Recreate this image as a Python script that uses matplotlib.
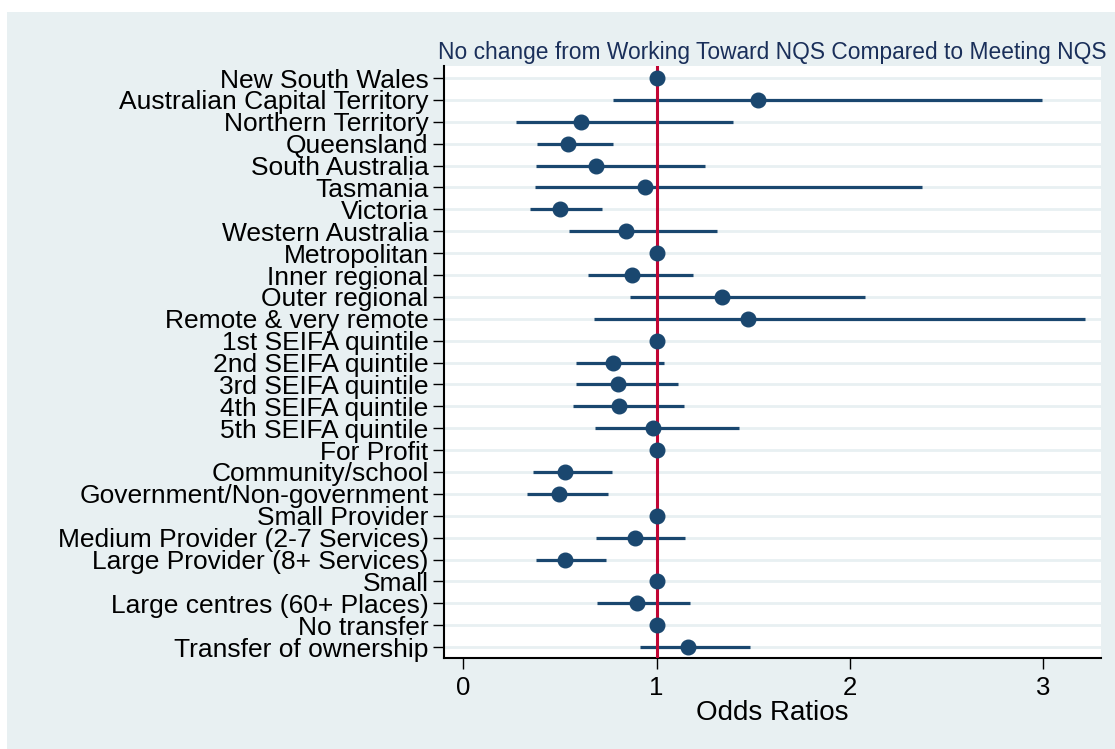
import matplotlib
matplotlib.use('Agg')
import matplotlib.pyplot as plt
import numpy as np

plt.rcParams['font.family'] = ['Liberation Sans', 'DejaVu Sans']

labels = ['New South Wales', 'Australian Capital Territory', 'Northern Territory',
          'Queensland', 'South Australia', 'Tasmania', 'Victoria', 'Western Australia',
          'Metropolitan', 'Inner regional', 'Outer regional', 'Remote & very remote',
          '1st SEIFA quintile', '2nd SEIFA quintile', '3rd SEIFA quintile',
          '4th SEIFA quintile', '5th SEIFA quintile', 'For Profit', 'Community/school',
          'Government/Non-government', 'Small Provider', 'Medium Provider (2-7 Services)',
          'Large Provider (8+ Services)', 'Small', 'Large centres (60+ Places)',
          'No transfer', 'Transfer of ownership']

odds = [1.0, 1.523, 0.611, 0.541, 0.688, 0.939, 0.498, 0.844,
        1.0, 0.871, 1.337, 1.475,
        1.0, 0.776, 0.801, 0.805, 0.982,
        1.0, 0.527, 0.493,
        1.0, 0.887, 0.527,
        1.0, 0.900,
        1.0, 1.165]
lower = [1.0, 0.776, 0.271, 0.380, 0.378, 0.373, 0.346, 0.545,
         1.0, 0.643, 0.860, 0.676,
         1.0, 0.581, 0.581, 0.568, 0.681,
         1.0, 0.362, 0.328,
         1.0, 0.686, 0.376,
         1.0, 0.690,
         1.0, 0.914]
upper = [1.0, 2.993, 1.398, 0.774, 1.249, 2.373, 0.717, 1.314,
         1.0, 1.186, 2.079, 3.219,
         1.0, 1.036, 1.109, 1.143, 1.428,
         1.0, 0.769, 0.749,
         1.0, 1.147, 0.738,
         1.0, 1.174,
         1.0, 1.486]

bg = '#e8f0f2'
navy = '#1a476f'

fig = plt.figure(figsize=(11.15, 7.49), dpi=100, facecolor='white')
# light background panel, thin white margin at top and left only
fig.patches.append(plt.Rectangle((7/1115, -0.05), 1.1, 1.05 - 12/749, transform=fig.transFigure,
                                 facecolor=bg, edgecolor='none', zorder=-10))

ax = fig.add_axes([444/1115, 1 - 658/749, 657/1115, 592/749])
ax.set_facecolor('white')

ypos = np.arange(1, len(labels) + 1)
for y in ypos:
    ax.axhline(y, color=bg, lw=2, zorder=0)

ax.hlines(ypos, lower, upper, color=navy, lw=2.3, zorder=2)
ax.axvline(1, color='#c10534', lw=2.2, zorder=3)
ax.plot(odds, ypos, 'o', color=navy, markersize=10.5, zorder=4)

ax.set_xlim(-0.1, 3.3)
ax.set_ylim(27.5, 0.45)
ax.set_yticks(ypos)
ax.set_yticklabels(labels, fontsize=19)
ax.set_xticks([0, 1, 2, 3])
ax.tick_params(axis='x', labelsize=18.5, length=8, width=1, pad=5)
ax.tick_params(axis='y', length=8, width=1, pad=3)
ax.set_xlabel('Odds Ratios', fontsize=20, labelpad=0)

for s in ['top', 'right']:
    ax.spines[s].set_visible(False)
for s in ['left', 'bottom']:
    ax.spines[s].set_linewidth(1.5)

fig.text(1107/1115, 1 - 52/749, 'No change from Working Toward NQS Compared to Meeting NQS',
         ha='right', va='center', fontsize=16.4, color='#1a2f5a')

fig.savefig('out.png', dpi=100, facecolor='white')
